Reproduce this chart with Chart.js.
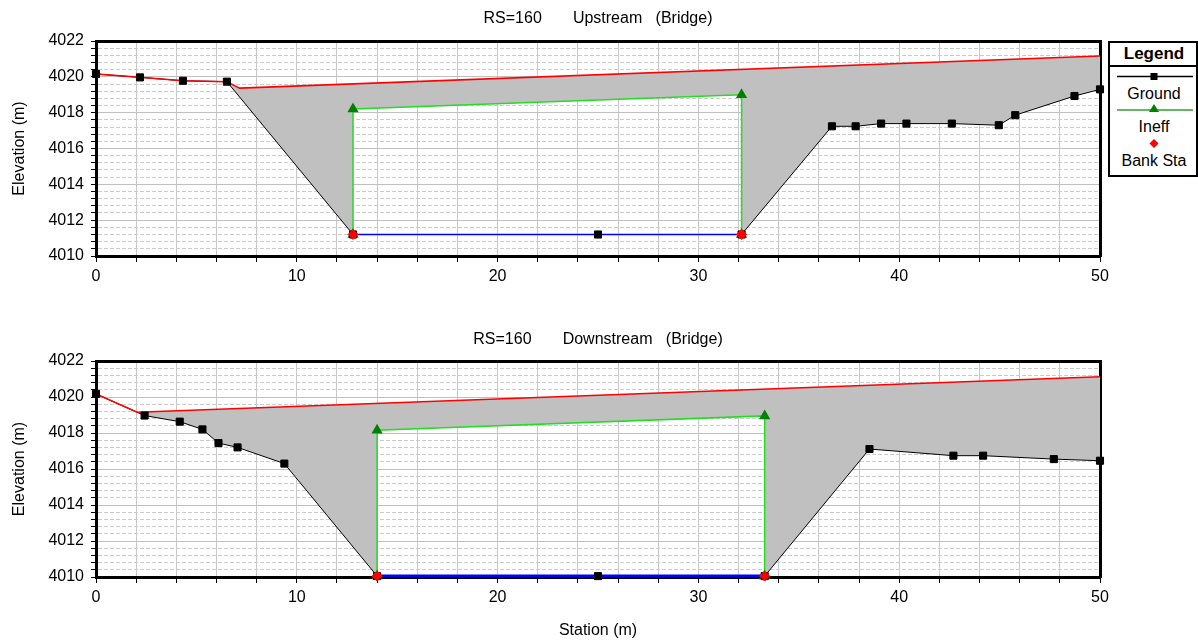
<!DOCTYPE html>
<html>
<head>
<meta charset="utf-8">
<script src="https://cdn.jsdelivr.net/npm/chart.js@4.4.1/dist/chart.umd.min.js"></script>
<style>
    body { margin: 0; background: #fff; width: 1198px; height: 641px; overflow: hidden; position: relative; }
    #chartUp { position: absolute; left: 0; top: 0; }
    #chartDn { position: absolute; left: 0; top: 320px; }
    #legend { position: absolute; left: 1108px; top: 41px; font-family: 'Liberation Sans', Arial, sans-serif; }
</style>
</head>
<body>
<canvas id="chartUp" width="1115" height="300"></canvas>
<canvas id="chartDn" width="1115" height="321"></canvas>
<svg id="legend" width="90" height="136"></svg>
<script>
// axes
const stationMin = 0, stationMax = 50;
const elevMin = 4010, elevMax = 4022;
const stationStep = 2, stationLabelStep = 10;
const elevStep = 0.4, elevLabelStep = 2;

// RS=160 Upstream (Bridge)
const upGroundSta  = [0, 2.19, 4.33, 6.52, 12.8, 25, 32.15, 36.65, 37.83, 39.1, 40.36, 42.62, 44.96, 45.78, 48.73, 50];
const upGroundElev = [4020.16, 4019.97, 4019.78, 4019.73, 4011.2, 4011.2, 4011.2, 4017.24, 4017.24, 4017.39, 4017.39, 4017.39, 4017.3, 4017.86, 4018.93, 4019.3];
const upDeckSta  = [0, 2.19, 4.33, 6.52, 7.15, 50];
const upDeckElev = [4020.16, 4019.97, 4019.78, 4019.73, 4019.37, 4021.16];
const upDeckFrom = 6.52;
const upIneffSta  = [12.8, 12.8, 32.15, 32.15];
const upIneffElev = [4011.2, 4018.2, 4019.0, 4011.2];
const upBankSta  = [12.8, 32.15];
const upBankElev = [4011.2, 4011.2];

// RS=160 Downstream (Bridge)
const dnGroundSta  = [0, 2.42, 4.17, 5.3, 6.1, 7.05, 9.38, 14.0, 25, 33.3, 38.52, 42.7, 44.18, 47.7, 50];
const dnGroundElev = [4020.17, 4018.97, 4018.63, 4018.2, 4017.44, 4017.2, 4016.3, 4010.05, 4010.05, 4010.05, 4017.11, 4016.74, 4016.74, 4016.55, 4016.46];
const dnDeckSta  = [0, 2.05, 50];
const dnDeckElev = [4020.17, 4019.15, 4021.12];
const dnDeckFrom = 2.05;
const dnIneffSta  = [14.0, 14.0, 33.3, 33.3];
const dnIneffElev = [4010.05, 4018.15, 4018.95, 4010.05];
const dnBankSta  = [14.0, 33.3];
const dnBankElev = [4010.05, 4010.05];

const FONT = "'Liberation Sans', Arial, sans-serif";

function pts(sta, elev) {
    return sta.map((s, i) => ({ x: s, y: elev[i] }));
}

function onStep(v, step) {
    return Math.abs(v / step - Math.round(v / step)) < 1e-6;
}

// outline of the grey deck: top line, then back along ground / ineff
function deckOutline(from, topSta, topElev, gSta, gElev, iSta, iElev) {
    const iL = iSta[0], iR = iSta[iSta.length - 1];
    const top = pts(topSta, topElev).filter(p => p.x >= from);
    const lower = [];
    pts(gSta, gElev).forEach(p => { if (p.x >= from && p.x <= iL) lower.push(p); });
    pts(iSta, iElev).forEach(p => lower.push(p));
    pts(gSta, gElev).forEach(p => { if (p.x >= iR) lower.push(p); });
    return top.concat(lower.reverse());
}

function crearGrafico(id, c) {
    const bankL = c.bankSta[0], bankR = c.bankSta[c.bankSta.length - 1];
    const inChannel = ctx => ctx.p0.parsed.x >= bankL - 1e-6 && ctx.p1.parsed.x <= bankR + 1e-6;

    return new Chart(document.getElementById(id), {
        type: "scatter",
        data: {
            datasets: [
                {
                    label: "Bank Sta",
                    data: pts(c.bankSta, c.bankElev),
                    showLine: false,
                    pointStyle: "rectRot",
                    pointRadius: 5,
                    pointBackgroundColor: "#ff0000",
                    pointBorderColor: "#ff0000",
                    clip: false
                },
                {
                    label: "Ground points",
                    data: pts(c.gSta, c.gElev),
                    showLine: false,
                    pointStyle: "rect",
                    pointRadius: 5,
                    pointBackgroundColor: "#000",
                    pointBorderColor: "#000",
                    clip: false
                },
                {
                    label: "Ineff",
                    data: pts(c.iSta, c.iElev),
                    showLine: true,
                    borderColor: "#22dd22",
                    borderWidth: 1.5,
                    pointStyle: "triangle",
                    pointRadius: 5,
                    pointBackgroundColor: "#008000",
                    pointBorderColor: "#008000",
                    clip: false
                },
                {
                    label: "Deck",
                    data: pts(c.deckSta, c.deckElev),
                    showLine: true,
                    borderColor: "#ff0000",
                    borderWidth: 1.5,
                    pointRadius: 0
                },
                {
                    label: "Ground",
                    data: pts(c.gSta, c.gElev),
                    showLine: true,
                    borderColor: "#000",
                    borderWidth: 1,
                    pointRadius: 0,
                    segment: {
                        borderColor: ctx => inChannel(ctx) ? "#0000ff" : undefined,
                        borderWidth: ctx => inChannel(ctx) ? c.channelWidth : undefined
                    }
                },
                {
                    label: "Deck area",
                    data: deckOutline(c.deckFrom, c.deckSta, c.deckElev, c.gSta, c.gElev, c.iSta, c.iElev),
                    showLine: true,
                    fill: "shape",
                    backgroundColor: "#c0c0c0",
                    borderColor: "rgba(0,0,0,0)",
                    borderWidth: 0,
                    pointRadius: 0
                }
            ]
        },
        options: {
            responsive: false,
            animation: false,
            events: [],
            layout: { padding: { left: 0, right: 15, top: 0, bottom: 0 } },
            plugins: {
                legend: { display: false },
                tooltip: { enabled: false },
                title: {
                    display: true,
                    text: c.title,
                    fullSize: false,
                    color: "#000",
                    font: { family: FONT, size: 16, weight: "normal" },
                    padding: { top: c.titleTop, bottom: 41 - c.titleTop - 19.2 }
                }
            },
            scales: {
                x: {
                    type: "linear",
                    position: "bottom",
                    min: stationMin,
                    max: stationMax,
                    afterFit: s => { s.height = c.xAxisHeight; s.paddingLeft = 0; s.paddingRight = 0; },
                    ticks: {
                        stepSize: stationStep,
                        autoSkip: false,
                        maxRotation: 0,
                        padding: 5,
                        color: "#000",
                        font: { family: FONT, size: 16 },
                        callback: v => onStep(v, stationLabelStep) ? v : ""
                    },
                    grid: { color: "#c8c8c8", lineWidth: 1, tickColor: "#000", tickLength: 6 },
                    border: { color: "#000", width: 3 },
                    title: {
                        display: c.showStation,
                        text: "Station (m)",
                        color: "#000",
                        font: { family: FONT, size: 16 },
                        padding: { top: 4, bottom: 0.4 }
                    }
                },
                x2: {
                    type: "linear",
                    position: "top",
                    min: stationMin,
                    max: stationMax,
                    afterFit: s => { s.height = 0; s.paddingLeft = 0; s.paddingRight = 0; },
                    ticks: { display: false },
                    grid: { display: false, drawTicks: false },
                    border: { color: "#000", width: 3 }
                },
                y: {
                    type: "linear",
                    position: "left",
                    min: elevMin,
                    max: elevMax,
                    afterFit: s => { s.width = 96; s.paddingTop = 0; s.paddingBottom = 0; },
                    ticks: {
                        stepSize: elevStep,
                        autoSkip: false,
                        padding: 7,
                        color: "#000",
                        font: { family: FONT, size: 16 },
                        callback: v => onStep(v, elevLabelStep) ? v : ""
                    },
                    grid: {
                        color: ctx => (ctx.tick && !onStep(ctx.tick.value, elevLabelStep)) ? "#cccccc" : "#c0c0c0",
                        lineWidth: 1,
                        tickColor: "#000",
                        tickLength: 5
                    },
                    border: {
                        color: "#000",
                        width: 3,
                        dash: ctx => (ctx.tick && !onStep(ctx.tick.value, elevLabelStep)) ? [4, 2] : []
                    },
                    title: {
                        display: true,
                        text: "Elevation (m)",
                        color: "#000",
                        font: { family: FONT, size: 16 },
                        padding: { top: 10.4, bottom: 0 }
                    }
                },
                y2: {
                    type: "linear",
                    position: "right",
                    min: elevMin,
                    max: elevMax,
                    afterFit: s => { s.width = 0; s.paddingTop = 0; s.paddingBottom = 0; },
                    ticks: { display: false },
                    grid: { display: false, drawTicks: false },
                    border: { color: "#000", width: 3 }
                }
            }
        }
    });
}

crearGrafico("chartUp", {
    title: "RS=160       Upstream   (Bridge)",
    titleTop: 9.4,
    xAxisHeight: 44,
    showStation: false,
    channelWidth: 1.5,
    gSta: upGroundSta, gElev: upGroundElev,
    deckSta: upDeckSta, deckElev: upDeckElev, deckFrom: upDeckFrom,
    iSta: upIneffSta, iElev: upIneffElev,
    bankSta: upBankSta, bankElev: upBankElev
});

crearGrafico("chartDn", {
    title: "RS=160       Downstream   (Bridge)",
    titleTop: 10.4,
    xAxisHeight: 64,
    showStation: true,
    channelWidth: 3,
    gSta: dnGroundSta, gElev: dnGroundElev,
    deckSta: dnDeckSta, deckElev: dnDeckElev, deckFrom: dnDeckFrom,
    iSta: dnIneffSta, iElev: dnIneffElev,
    bankSta: dnBankSta, bankElev: dnBankElev
});

// legend box (symbol above its name, like the original)
const legendEntries = [
    { label: "Ground", line: "#000", marker: "square", color: "#000" },
    { label: "Ineff", line: "#33a033", marker: "triangle", color: "#008000" },
    { label: "Bank Sta", line: null, marker: "diamond", color: "#ff0000" }
];

const svg = document.getElementById("legend");
let html = `<rect x="1" y="1" width="88" height="134" fill="#fff" stroke="#000" stroke-width="2"/>
    <text x="46" y="12" text-anchor="middle" dominant-baseline="central" font-size="17" font-weight="bold">Legend</text>
    <line x1="0" y1="25" x2="90" y2="25" stroke="#000" stroke-width="2"/>`;
legendEntries.forEach((e, i) => {
    const sy = 35.5 + i * 33.5;
    const ty = 52 + i * 33.5;
    if (e.line) html += `<line x1="9" y1="${sy}" x2="85" y2="${sy}" stroke="${e.line}" stroke-width="1.5"/>`;
    if (e.marker === "square") html += `<rect x="42.5" y="${sy - 3.5}" width="7" height="7" fill="${e.color}"/>`;
    if (e.marker === "triangle") html += `<polygon points="46,${sy - 6} 51,${sy + 2} 41,${sy + 2}" fill="${e.color}"/>`;
    if (e.marker === "diamond") html += `<polygon points="46,${sy - 4.5} 50.5,${sy} 46,${sy + 4.5} 41.5,${sy}" fill="${e.color}"/>`;
    html += `<text x="46" y="${ty}" text-anchor="middle" dominant-baseline="central" font-size="16">${e.label}</text>`;
});
svg.innerHTML = html;
</script>
</body>
</html>
